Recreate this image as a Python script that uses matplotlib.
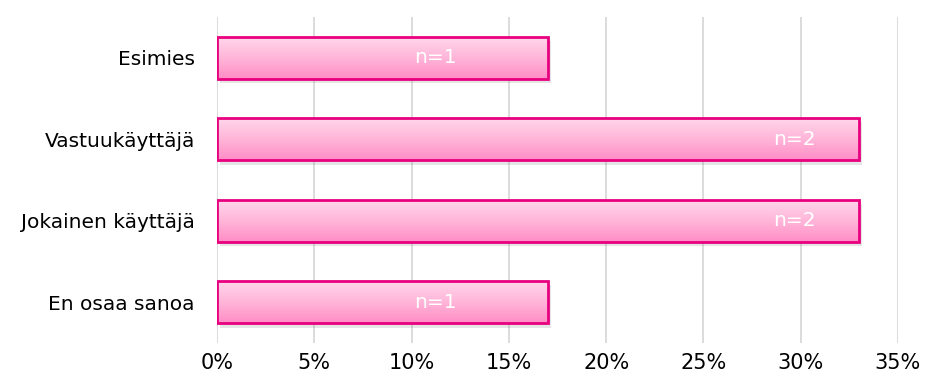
import numpy as np
import matplotlib.pyplot as plt
from matplotlib import patheffects as pe

# data
categories = ["Esimies", "Vastuukäyttäjä", "Jokainen käyttäjä", "En osaa sanoa"]
percents = [17, 33, 33, 17]
counts = [1, 2, 2, 1]
xticks = [0, 5, 10, 15, 20, 25, 30, 35]

plt.rcParams['font.family'] = ['DejaVu Sans']

fig = plt.figure(figsize=(9.25, 3.83), dpi=100)
ax = fig.add_axes([0.2346, 0.1044, 0.7362, 0.8512])

y = np.arange(len(categories))
border = "#e8007f"

# shadow + base fill
bars = ax.barh(y, percents, height=0.52, color="#ff9fcf", edgecolor="none", zorder=2,
               path_effects=[pe.SimplePatchShadow(offset=(2, -3), shadow_rgbFace="0.5", alpha=0.2),
                             pe.Normal()])

# vertical gradient inside each bar
grad = np.linspace(0, 1, 256).reshape(-1, 1)
cmap = plt.matplotlib.colors.LinearSegmentedColormap.from_list("pk", ["#ffd8eb", "#ffb6d9", "#ff8dc6"])
for b in bars:
    x0, y0 = b.get_x(), b.get_y()
    w, h = b.get_width(), b.get_height()
    im = ax.imshow(grad, extent=(x0, x0 + w, y0 + h, y0), cmap=cmap, aspect="auto", zorder=3,
                   interpolation="bicubic")
    im.set_clip_path(b)

ax.barh(y, percents, height=0.52, fill=False, edgecolor=border, linewidth=2, zorder=4)

# labels inside bars (placed toward the end)
for yi, p, n in zip(y, percents, counts):
    xpos = p * 0.66 if n == 1 else p * 0.9
    ax.text(xpos, yi, f"n={n}", color="white", fontsize=14.5, ha="center", va="center", zorder=5)

ax.set_xlim(0, 35)
ax.set_ylim(len(categories) - 0.5, -0.5)
ax.set_xticks(xticks)
ax.set_xticklabels([f"{t}%" for t in xticks], fontsize=15)
ax.set_yticks(y)
ax.set_yticklabels(categories, fontsize=14.5)
ax.tick_params(axis="both", length=0)
ax.tick_params(axis="y", pad=16)
ax.tick_params(axis="x", pad=7)
ax.grid(axis="x", color="#d9d9d9", linewidth=1.3, zorder=0)
ax.set_axisbelow(True)
for s in ax.spines.values():
    s.set_visible(False)

fig.savefig("out.png", dpi=100)
